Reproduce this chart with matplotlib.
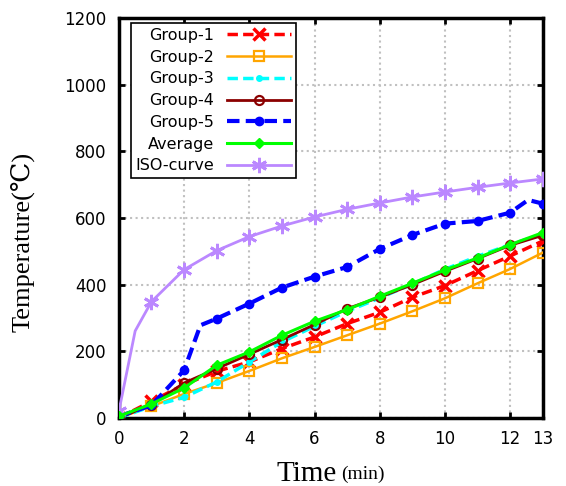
import matplotlib
matplotlib.use('Agg')
from matplotlib import pyplot as plt
from matplotlib.lines import Line2D

# time points (min)
t = [0, 1, 2, 3, 4, 5, 6, 7, 8, 9, 10, 11, 12, 13]
group1 = [0, 50, 100, 140, 168, 208, 243, 283, 317, 362, 397, 442, 486, 531]
group2 = [0, 35, 72, 105, 141, 179, 213, 248, 283, 320, 359, 404, 447, 496]
group3 = [0, 35, 62, 108, 168, 228, 275, 320, 360, 402, 446, 485, 520, 552]
group4 = [0, 40, 105, 148, 191, 235, 280, 328, 362, 400, 440, 478, 518, 548]
average = [5, 42, 90, 158, 198, 248, 290, 325, 365, 404, 444, 480, 520, 556]

t5 = [0, 1, 2, 2.5, 3, 4, 5, 6, 7, 8, 9, 10, 11, 12, 12.55, 13]
group5 = [5, 38, 143, 278, 298, 343, 391, 424, 453, 507, 549, 583, 591, 616, 654, 643]
g5_marks = [0, 1, 2, 4, 5, 6, 7, 8, 9, 10, 11, 12, 13, 15]

t_iso = [0, 0.5, 1, 2, 3, 4, 5, 6, 7, 8, 9, 10, 11, 12, 13]
iso = [20, 261, 349, 445, 502, 544, 576, 603, 626, 645, 663, 678, 692, 705, 717]
iso_marks = [0] + list(range(2, 15))

ISO_COL = '#bb88ff'
ASTER = (6, 2, 0)

fig = plt.figure(figsize=(5.66, 4.86), dpi=100)
ax = fig.add_axes([0.210, 0.140, 0.749, 0.823])

ax.plot(t, group1, color='red', ls='--', lw=2.5, marker='x', ms=8, mew=2.5,
        dashes=(3, 1.5), label='Group-1', zorder=3)
ax.plot(t, group2, color='orange', ls='-', lw=1.8, marker='s', ms=6.5, mfc='none',
        mew=1.6, label='Group-2', zorder=3)
ax.plot(t, group3, color='cyan', ls='--', lw=2.5, marker='o', ms=4,
        dashes=(3, 1.5), label='Group-3', zorder=3)
ax.plot(t, group4, color='darkred', ls='-', lw=2, marker='o', ms=6.5, mfc='none',
        mew=1.6, label='Group-4', zorder=3)
ax.plot(t5, group5, color='blue', ls='--', lw=3, marker='o', ms=6,
        dashes=(3, 1.5), markevery=g5_marks, label='Group-5', zorder=3)
ax.plot(t, average, color='lime', ls='-', lw=2.2, marker='D', ms=5.5,
        label='Average', zorder=4)
ax.plot(t_iso, iso, color=ISO_COL, ls='-', lw=2, marker=ASTER, ms=11, mew=2,
        markevery=iso_marks, label='ISO-curve', zorder=3)

ax.set_xlim(0, 13)
ax.set_ylim(0, 1200)
ax.set_xticks([0, 2, 4, 6, 8, 10, 12, 13])
ax.set_yticks([0, 200, 400, 600, 800, 1000, 1200])
ax.grid(True, color='#c0c0c0', lw=1.5, ls=':')
ax.tick_params(direction='in', length=4, width=2, labelsize=12, right=True, top=True,
               pad=9)
for s in ax.spines.values():
    s.set_linewidth(2.5)

serif = ['Liberation Serif', 'DejaVu Serif']
ax.set_ylabel('Temperature(\u2103)', family=serif, fontsize=19)
ax.yaxis.set_label_coords(-0.2, 0.44)
ax.text(0.515, -0.14, 'Time', transform=ax.transAxes, family=serif, fontsize=21,
        ha='right', va='center')
ax.text(0.525, -0.14, '(min)', transform=ax.transAxes, family=serif, fontsize=14,
        ha='left', va='center')

h, l = ax.get_legend_handles_labels()
h[-1] = Line2D([], [], color=ISO_COL, lw=2, marker=ASTER, ms=11, mew=2)
leg = ax.legend(h, l, loc='upper left', bbox_to_anchor=(0.02, 0.995), markerfirst=False,
                fontsize=11.5, fancybox=False, edgecolor='black', framealpha=1,
                handlelength=4.0, labelspacing=0.42, borderpad=0.3, handletextpad=0.8,
                borderaxespad=0.2, numpoints=1)
leg.get_frame().set_linewidth(1.2)
leg._legend_box.align = 'right'

fig.savefig('out.png', dpi=100)
